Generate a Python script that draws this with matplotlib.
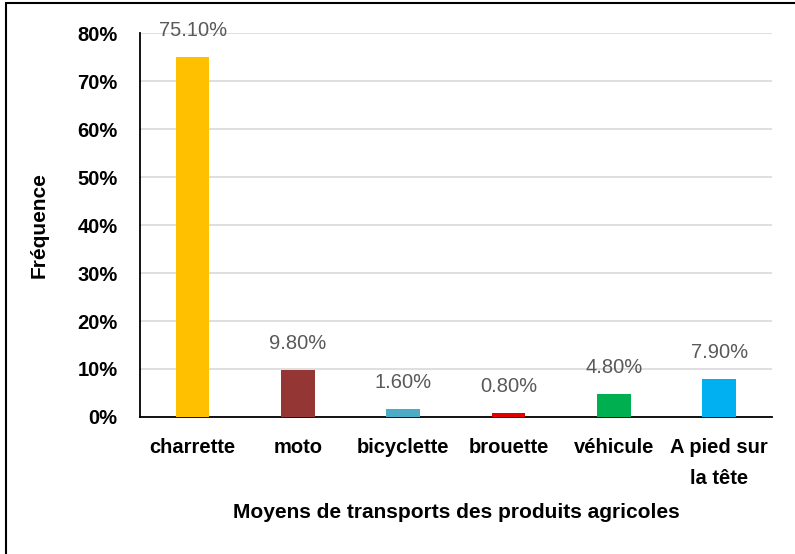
import matplotlib.pyplot as plt
from matplotlib.ticker import PercentFormatter
from matplotlib.patches import Rectangle

categories = ["charrette", "moto", "bicyclette", "brouette", "véhicule", "A pied sur\nla tête"]
values = [75.10, 9.80, 1.60, 0.80, 4.80, 7.90]
colors = ["#FFC000", "#943634", "#4BACC6", "#E00000", "#00B050", "#00B0F0"]

plt.rcParams['font.family'] = ['Liberation Sans', 'DejaVu Sans']

fig = plt.figure(figsize=(7.95, 5.54), dpi=100)
ax = fig.add_axes([0.176, 0.2473, 0.795, 0.6931])

# outer frame of the chart box (runs off right/bottom like the source)
fig.patches.append(Rectangle((0.007, -0.1), 1.2, 1.095, transform=fig.transFigure,
                             fill=False, edgecolor="black", linewidth=1.5))

x = range(len(categories))
bars = ax.bar(x, values, width=0.32, color=colors, zorder=3)

for b, v in zip(bars, values):
    ax.annotate(f"{v:.2f}%", (b.get_x() + b.get_width() / 2, v),
                xytext=(0, 19), textcoords="offset points", ha="center", va="center",
                fontsize=14.5, color="#595959")

ax.set_xlim(-0.5, len(categories) - 0.5)
ax.set_ylim(0, 80)
ax.set_yticks(range(0, 81, 10))
ax.yaxis.set_major_formatter(PercentFormatter(decimals=0))
ax.set_xticks(list(x))
ax.set_xticklabels(categories, linespacing=1.8)
ax.grid(axis="y", color="#D9D9D9", linewidth=1.2, zorder=0)
ax.tick_params(length=0, labelsize=14.5)
ax.tick_params(axis="x", pad=15)
ax.tick_params(axis="y", pad=16)
for lab in ax.get_xticklabels() + ax.get_yticklabels():
    lab.set_fontweight("bold")

for s in ["top", "right"]:
    ax.spines[s].set_visible(False)
ax.spines["left"].set_linewidth(1.3)
ax.spines["bottom"].set_linewidth(1.3)

ax.set_ylabel("Fréquence", fontsize=15, fontweight="bold", labelpad=21)
ax.set_xlabel("Moyens de transports des produits agricoles", fontsize=15,
              fontweight="bold", labelpad=11)

fig.savefig("out.png", dpi=100)
